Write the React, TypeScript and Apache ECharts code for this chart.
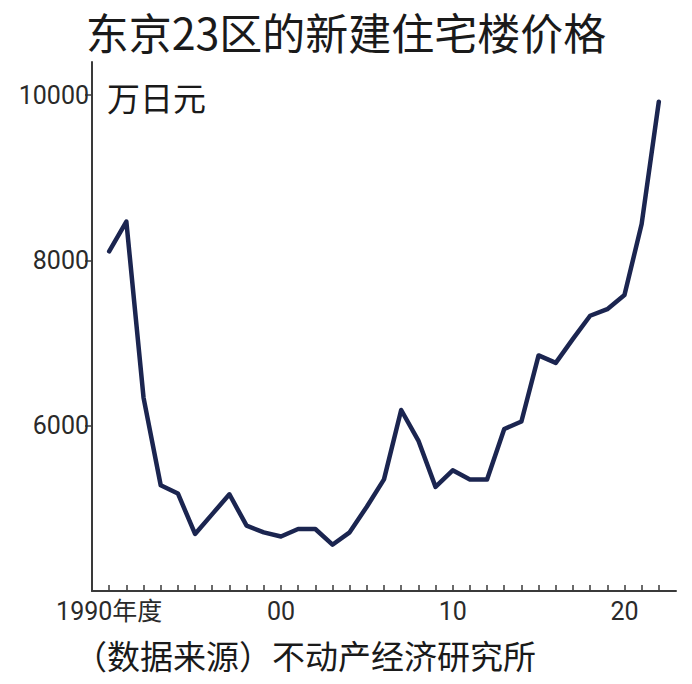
import React, { useRef, useEffect } from 'react';
import * as echarts from 'echarts';

const years = [
  1990, 1991, 1992, 1993, 1994, 1995, 1996, 1997, 1998, 1999,
  2000, 2001, 2002, 2003, 2004, 2005, 2006, 2007, 2008, 2009,
  2010, 2011, 2012, 2013, 2014, 2015, 2016, 2017, 2018, 2019,
  2020, 2021, 2022,
];
// 万日元
const prices = [
  8110, 8470, 6340, 5280, 5180, 4690, 4930, 5170, 4790, 4710,
  4660, 4750, 4750, 4560, 4710, 5020, 5350, 6190, 5820, 5260,
  5460, 5350, 5350, 5960, 6050, 6850, 6760, 7050, 7330, 7410,
  7580, 8440, 9920,
];
const xLabelYears = [1990, 2000, 2010, 2020];
const xLabelTexts = ['1990年度', '00', '10', '20'];
const yTicks = [6000, 8000, 10000];

const TITLE = '东京23区的新建住宅楼价格';
const UNIT = '万日元';
const SOURCE = '（数据来源）不动产经济研究所';

const NUM_FONT = "Roboto, 'Noto Sans CJK SC', sans-serif";
const CJK_FONT = "'Noto Sans CJK SC', sans-serif";
const AXIS_COLOR = '#3a3a3a';

export default function App() {
  const chartRef = useRef<HTMLDivElement>(null);

  useEffect(() => {
    document.body.style.margin = '0';
    if (!chartRef.current) return;
    const chart = echarts.init(chartRef.current, undefined, { renderer: 'svg' });

    const option: echarts.EChartsOption = {
      animation: false,
      backgroundColor: '#fff',
      title: {
        text: TITLE,
        left: 'center',
        top: 8,
        padding: 0,
        textStyle: {
          fontSize: 43,
          lineHeight: 46,
          fontWeight: 'normal',
          color: '#1a1a1a',
          fontFamily: CJK_FONT,
        },
      },
      grid: { left: 92, right: 16, top: 62, bottom: 93, outerBoundsMode: 'none' } as any,
      graphic: [
        {
          type: 'text',
          left: 107,
          top: 80,
          style: { text: UNIT, font: `33px ${CJK_FONT}`, lineHeight: 33, fill: '#1a1a1a' },
        },
        {
          type: 'text',
          left: 74,
          top: 638,
          style: { text: SOURCE, font: `33px ${CJK_FONT}`, lineHeight: 33, fill: '#1a1a1a' },
        },
      ],
      xAxis: {
        type: 'value',
        min: 1989,
        max: 2023,
        interval: 1,
        axisLine: { show: true, lineStyle: { color: AXIS_COLOR, width: 2 } },
        axisTick: {
          show: true,
          inside: true,
          length: 6,
          customValues: years,
          lineStyle: { color: AXIS_COLOR, width: 1.5 },
        } as any,
        axisLabel: {
          customValues: xLabelYears,
          formatter: (v: number) => xLabelTexts[xLabelYears.indexOf(v)] ?? '',
          margin: 8,
          color: '#2a2a2a',
          fontSize: 25,
          lineHeight: 25,
          fontFamily: NUM_FONT,
        } as any,
        splitLine: { show: false },
      },
      yAxis: {
        type: 'value',
        min: 4000,
        max: 10400,
        interval: 2000,
        axisLine: { show: true, lineStyle: { color: AXIS_COLOR, width: 2 } },
        axisTick: {
          show: true,
          length: 7,
          customValues: yTicks,
          lineStyle: { color: AXIS_COLOR, width: 1.5 },
        } as any,
        axisLabel: {
          customValues: yTicks,
          formatter: (v: number) => String(v),
          margin: 3,
          color: '#2a2a2a',
          fontSize: 25,
          fontFamily: NUM_FONT,
        } as any,
        splitLine: { show: false },
      },
      series: [
        {
          type: 'line',
          data: years.map((y, i) => [y, prices[i]]),
          showSymbol: false,
          symbol: 'none',
          lineStyle: { color: '#1b2550', width: 4.5, join: 'round', cap: 'round' },
          z: 3,
        },
      ],
    };

    chart.setOption(option);
    return () => chart.dispose();
  }, []);

  return <div ref={chartRef} style={{ width: 692, height: 684 }} />;
}
